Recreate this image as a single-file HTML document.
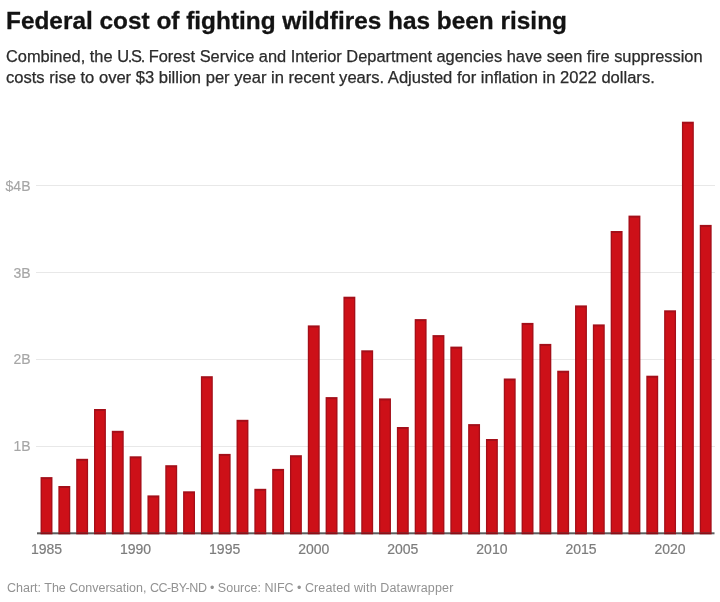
<!DOCTYPE html>
<html><head><meta charset="utf-8"><style>
html,body{margin:0;padding:0;background:#fff;}
body{width:720px;height:602px;position:relative;overflow:hidden;font-family:"Liberation Sans",sans-serif;filter:blur(0.6px);}
.t{position:absolute;left:5.8px;top:7px;transform:scaleX(1.016);font-size:24px;font-weight:bold;color:#131313;-webkit-text-stroke:0.3px #131313;white-space:nowrap;line-height:28px;transform-origin:0 0;}
.s{position:absolute;left:7px;font-size:16px;color:#2b2b2b;-webkit-text-stroke:0.25px #2b2b2b;white-space:nowrap;line-height:21px;transform-origin:0 0;}
.g{position:absolute;left:36px;width:678.5px;height:1px;background:#e8e8e8;}
.yl{position:absolute;left:0;width:30.5px;text-align:right;font-size:14px;line-height:18px;color:#a6a6a6;-webkit-text-stroke:0.15px #a6a6a6;}
.xl{position:absolute;top:540px;width:60px;text-align:center;font-size:14px;line-height:18px;color:#7c7c7c;-webkit-text-stroke:0.2px #7c7c7c;}
.sv{position:absolute;left:0;top:0;}
.f{position:absolute;left:7px;top:580.4px;font-size:12.5px;line-height:16px;color:#929292;white-space:nowrap;transform-origin:0 0;}
</style></head><body>
<div class="t" id="t">Federal cost of fighting wildfires has been rising</div>
<div class="s" id="s1" style="top:46.3px;left:6.3px;transform:scaleX(1.0243)">Combined, the <span style="letter-spacing:-1.2px">U.S.</span> Forest Service and Interior Department agencies have seen fire suppression</div>
<div class="s" id="s2" style="top:66.8px;left:6.3px;transform:scaleX(1.0347)">costs rise to over $3 billion per year in recent years. Adjusted for inflation in 2022 dollars.</div>
<div class="g" style="top:185.4px"></div><div class="yl" style="top:176.9px">$4B</div><div class="g" style="top:272.2px"></div><div class="yl" style="top:263.7px">3B</div><div class="g" style="top:358.9px"></div><div class="yl" style="top:350.4px">2B</div><div class="g" style="top:445.7px"></div><div class="yl" style="top:437.2px">1B</div>
<svg class="sv" width="720" height="602" viewBox="0 0 720 602"><rect x="37" y="532.3" width="677.5" height="2" fill="#5e5e5e"/><g fill="#a40f19"><rect x="40.56" y="477.1" width="11.9" height="55.2"/><rect fill="#cd1018" x="41.86" y="479.1" width="9.30" height="53.2"/><rect fill="#8c0d15" x="40.56" y="532.3" width="11.9" height="2"/><rect x="58.37" y="486.0" width="11.9" height="46.3"/><rect fill="#cd1018" x="59.67" y="488.0" width="9.30" height="44.3"/><rect fill="#8c0d15" x="58.37" y="532.3" width="11.9" height="2"/><rect x="76.19" y="458.8" width="11.9" height="73.5"/><rect fill="#cd1018" x="77.49" y="460.8" width="9.30" height="71.5"/><rect fill="#8c0d15" x="76.19" y="532.3" width="11.9" height="2"/><rect x="94.01" y="409.0" width="11.9" height="123.3"/><rect fill="#cd1018" x="95.31" y="411.0" width="9.30" height="121.3"/><rect fill="#8c0d15" x="94.01" y="532.3" width="11.9" height="2"/><rect x="111.82" y="430.8" width="11.9" height="101.5"/><rect fill="#cd1018" x="113.12" y="432.8" width="9.30" height="99.5"/><rect fill="#8c0d15" x="111.82" y="532.3" width="11.9" height="2"/><rect x="129.64" y="456.3" width="11.9" height="76.0"/><rect fill="#cd1018" x="130.94" y="458.3" width="9.30" height="74.0"/><rect fill="#8c0d15" x="129.64" y="532.3" width="11.9" height="2"/><rect x="147.45" y="495.4" width="11.9" height="36.9"/><rect fill="#cd1018" x="148.75" y="497.4" width="9.30" height="34.9"/><rect fill="#8c0d15" x="147.45" y="532.3" width="11.9" height="2"/><rect x="165.27" y="465.2" width="11.9" height="67.1"/><rect fill="#cd1018" x="166.57" y="467.2" width="9.30" height="65.1"/><rect fill="#8c0d15" x="165.27" y="532.3" width="11.9" height="2"/><rect x="183.09" y="491.3" width="11.9" height="41.0"/><rect fill="#cd1018" x="184.39" y="493.3" width="9.30" height="39.0"/><rect fill="#8c0d15" x="183.09" y="532.3" width="11.9" height="2"/><rect x="200.90" y="376.2" width="11.9" height="156.1"/><rect fill="#cd1018" x="202.20" y="378.2" width="9.30" height="154.1"/><rect fill="#8c0d15" x="200.90" y="532.3" width="11.9" height="2"/><rect x="218.72" y="453.9" width="11.9" height="78.4"/><rect fill="#cd1018" x="220.02" y="455.9" width="9.30" height="76.4"/><rect fill="#8c0d15" x="218.72" y="532.3" width="11.9" height="2"/><rect x="236.53" y="419.8" width="11.9" height="112.5"/><rect fill="#cd1018" x="237.83" y="421.8" width="9.30" height="110.5"/><rect fill="#8c0d15" x="236.53" y="532.3" width="11.9" height="2"/><rect x="254.35" y="488.8" width="11.9" height="43.5"/><rect fill="#cd1018" x="255.65" y="490.8" width="9.30" height="41.5"/><rect fill="#8c0d15" x="254.35" y="532.3" width="11.9" height="2"/><rect x="272.17" y="468.9" width="11.9" height="63.4"/><rect fill="#cd1018" x="273.47" y="470.9" width="9.30" height="61.4"/><rect fill="#8c0d15" x="272.17" y="532.3" width="11.9" height="2"/><rect x="289.98" y="455.2" width="11.9" height="77.1"/><rect fill="#cd1018" x="291.28" y="457.2" width="9.30" height="75.1"/><rect fill="#8c0d15" x="289.98" y="532.3" width="11.9" height="2"/><rect x="307.80" y="325.4" width="11.9" height="206.9"/><rect fill="#cd1018" x="309.10" y="327.4" width="9.30" height="204.9"/><rect fill="#8c0d15" x="307.80" y="532.3" width="11.9" height="2"/><rect x="325.61" y="397.1" width="11.9" height="135.2"/><rect fill="#cd1018" x="326.91" y="399.1" width="9.30" height="133.2"/><rect fill="#8c0d15" x="325.61" y="532.3" width="11.9" height="2"/><rect x="343.43" y="296.7" width="11.9" height="235.6"/><rect fill="#cd1018" x="344.73" y="298.7" width="9.30" height="233.6"/><rect fill="#8c0d15" x="343.43" y="532.3" width="11.9" height="2"/><rect x="361.25" y="350.3" width="11.9" height="182.0"/><rect fill="#cd1018" x="362.55" y="352.3" width="9.30" height="180.0"/><rect fill="#8c0d15" x="361.25" y="532.3" width="11.9" height="2"/><rect x="379.06" y="398.4" width="11.9" height="133.9"/><rect fill="#cd1018" x="380.36" y="400.4" width="9.30" height="131.9"/><rect fill="#8c0d15" x="379.06" y="532.3" width="11.9" height="2"/><rect x="396.88" y="427.0" width="11.9" height="105.3"/><rect fill="#cd1018" x="398.18" y="429.0" width="9.30" height="103.3"/><rect fill="#8c0d15" x="396.88" y="532.3" width="11.9" height="2"/><rect x="414.69" y="319.1" width="11.9" height="213.2"/><rect fill="#cd1018" x="415.99" y="321.1" width="9.30" height="211.2"/><rect fill="#8c0d15" x="414.69" y="532.3" width="11.9" height="2"/><rect x="432.51" y="335.1" width="11.9" height="197.2"/><rect fill="#cd1018" x="433.81" y="337.1" width="9.30" height="195.2"/><rect fill="#8c0d15" x="432.51" y="532.3" width="11.9" height="2"/><rect x="450.33" y="346.6" width="11.9" height="185.7"/><rect fill="#cd1018" x="451.63" y="348.6" width="9.30" height="183.7"/><rect fill="#8c0d15" x="450.33" y="532.3" width="11.9" height="2"/><rect x="468.14" y="424.1" width="11.9" height="108.2"/><rect fill="#cd1018" x="469.44" y="426.1" width="9.30" height="106.2"/><rect fill="#8c0d15" x="468.14" y="532.3" width="11.9" height="2"/><rect x="485.96" y="439.0" width="11.9" height="93.3"/><rect fill="#cd1018" x="487.26" y="441.0" width="9.30" height="91.3"/><rect fill="#8c0d15" x="485.96" y="532.3" width="11.9" height="2"/><rect x="503.77" y="378.5" width="11.9" height="153.8"/><rect fill="#cd1018" x="505.07" y="380.5" width="9.30" height="151.8"/><rect fill="#8c0d15" x="503.77" y="532.3" width="11.9" height="2"/><rect x="521.59" y="322.9" width="11.9" height="209.4"/><rect fill="#cd1018" x="522.89" y="324.9" width="9.30" height="207.4"/><rect fill="#8c0d15" x="521.59" y="532.3" width="11.9" height="2"/><rect x="539.41" y="343.9" width="11.9" height="188.4"/><rect fill="#cd1018" x="540.71" y="345.9" width="9.30" height="186.4"/><rect fill="#8c0d15" x="539.41" y="532.3" width="11.9" height="2"/><rect x="557.22" y="370.7" width="11.9" height="161.6"/><rect fill="#cd1018" x="558.52" y="372.7" width="9.30" height="159.6"/><rect fill="#8c0d15" x="557.22" y="532.3" width="11.9" height="2"/><rect x="575.04" y="305.4" width="11.9" height="226.9"/><rect fill="#cd1018" x="576.34" y="307.4" width="9.30" height="224.9"/><rect fill="#8c0d15" x="575.04" y="532.3" width="11.9" height="2"/><rect x="592.85" y="324.4" width="11.9" height="207.9"/><rect fill="#cd1018" x="594.15" y="326.4" width="9.30" height="205.9"/><rect fill="#8c0d15" x="592.85" y="532.3" width="11.9" height="2"/><rect x="610.67" y="231.0" width="11.9" height="301.3"/><rect fill="#cd1018" x="611.97" y="233.0" width="9.30" height="299.3"/><rect fill="#8c0d15" x="610.67" y="532.3" width="11.9" height="2"/><rect x="628.49" y="215.6" width="11.9" height="316.7"/><rect fill="#cd1018" x="629.79" y="217.6" width="9.30" height="314.7"/><rect fill="#8c0d15" x="628.49" y="532.3" width="11.9" height="2"/><rect x="646.30" y="375.7" width="11.9" height="156.6"/><rect fill="#cd1018" x="647.60" y="377.7" width="9.30" height="154.6"/><rect fill="#8c0d15" x="646.30" y="532.3" width="11.9" height="2"/><rect x="664.12" y="310.3" width="11.9" height="222.0"/><rect fill="#cd1018" x="665.42" y="312.3" width="9.30" height="220.0"/><rect fill="#8c0d15" x="664.12" y="532.3" width="11.9" height="2"/><rect x="681.93" y="121.7" width="11.9" height="410.6"/><rect fill="#cd1018" x="683.23" y="123.7" width="9.30" height="408.6"/><rect fill="#8c0d15" x="681.93" y="532.3" width="11.9" height="2"/><rect x="699.75" y="224.9" width="11.9" height="307.4"/><rect fill="#cd1018" x="701.05" y="226.9" width="9.30" height="305.4"/><rect fill="#8c0d15" x="699.75" y="532.3" width="11.9" height="2"/></g></svg>
<div class="xl" style="left:16.51px">1985</div><div class="xl" style="left:105.59px">1990</div><div class="xl" style="left:194.67px">1995</div><div class="xl" style="left:283.75px">2000</div><div class="xl" style="left:372.83px">2005</div><div class="xl" style="left:461.91px">2010</div><div class="xl" style="left:550.99px">2015</div><div class="xl" style="left:640.07px">2020</div>
<div class="f" id="f">Chart: The Conversation, <span style="letter-spacing:-0.42px">CC-BY-ND</span> • Source: NIFC • <span style="letter-spacing:0.14px">Created with Datawrapper</span></div>
</body></html>
